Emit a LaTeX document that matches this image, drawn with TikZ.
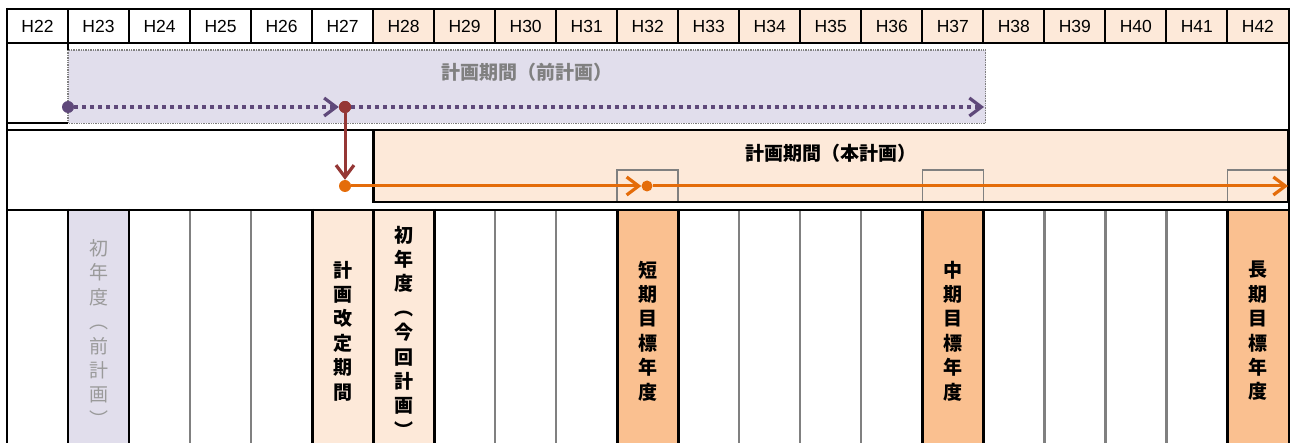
\documentclass[tikz,border=0pt]{standalone}
\usepackage{fontspec}
\setmainfont{Liberation Sans}
\newfontfamily\jp{Noto Sans CJK JP}
\usetikzlibrary{arrows.meta}
\definecolor{peach}{HTML}{FDE9D9}
\definecolor{orng}{HTML}{FAC090}
\definecolor{lav}{HTML}{E1DEEC}
\definecolor{purp}{HTML}{5F497A}
\definecolor{dred}{HTML}{953735}
\definecolor{oline}{HTML}{E46C0A}
\definecolor{gline}{HTML}{808080}
\definecolor{gtext}{HTML}{9A9A9A}
\definecolor{gtitle}{HTML}{808080}
\tikzset{
  blk/.style={line width=2pt, black},
  thk/.style={line width=2.8pt, black},
  gcol/.style={line width=2.4pt, gline},
  hdr/.style={font=\fontsize{17.5}{17.5}\selectfont, inner sep=0},
  ttl/.style={font=\jp\bfseries\fontsize{19}{19}\selectfont, inner sep=0},
  vt/.style={font=\jp\bfseries\fontsize{19}{24.4}\selectfont, align=center, inner sep=0},
  vtg/.style={font=\jp\fontsize{19}{24.4}\selectfont, align=center, inner sep=0, text=gtext},
  dot/.style={circle, inner sep=0, minimum size=12pt},
  chev/.style={-{Straight Barb[length=12pt,width=18pt,line width=3.2pt]}},
  pline/.style={line width=3.5pt, purp, dash pattern=on 4pt off 4pt},
  oln/.style={line width=3pt, oline},
  rln/.style={line width=3pt, dred},
  smallbox/.style={line width=1.6pt, gline},
}
\begin{document}
\begin{tikzpicture}[x=1pt,y=-1pt]
\useasboundingbox (0,0) rectangle (1290,443);
\def\L{7}\def\W{61.02}
% ---------- fills ----------
\fill[peach] ({\L+6*\W},9) rectangle (1288.5,43);
\fill[lav] ({\L+1*\W},210) rectangle ({\L+2*\W},443);
\fill[peach] ({\L+5*\W},210) rectangle ({\L+7*\W},443);
\fill[orng] ({\L+10*\W},210) rectangle ({\L+11*\W},443);
\fill[orng] ({\L+15*\W},210) rectangle ({\L+16*\W},443);
\fill[orng] ({\L+20*\W},210) rectangle (1288.5,443);
% ---------- row 2: previous plan box ----------
\fill[lav] ({\L+\W},50) rectangle (985.5,123.5);
\draw[gline, line width=1.4pt, densely dotted] ({\L+\W},50) rectangle (985.5,123.5);
% ---------- row 3: current plan box ----------
\draw[blk] (\L,123.5) -- ({\L+\W},123.5);
\draw[blk] (\L,130) -- (1288.5,130);
\filldraw[fill=peach, draw=black, line width=2.8pt] ({\L+6*\W},130) rectangle (1288.5,202);
\draw[smallbox] ({\L+10*\W},201) |- ({\L+11*\W},170) -- ({\L+11*\W},201);
\draw[smallbox] ({\L+15*\W},201) |- ({\L+16*\W},170) -- ({\L+16*\W},201);
\draw[smallbox] ({\L+20*\W},201) |- (1287,170);
% ---------- row 4 grid ----------
\foreach \i in {1,...,20} \draw[gcol] ({\L+\i*\W},210) -- ({\L+\i*\W},443);
\foreach \i in {1,2,5,6,7,10,11,15,16,20} \draw[thk] ({\L+\i*\W},209) -- ({\L+\i*\W},443);
\draw[blk] (\L,210) -- (1288.5,210);
% ---------- header ----------
\draw[blk] (\L,9) -- (1288.5,9);
\draw[blk] (\L,43) -- ({\L+6*\W},43);
\draw[thk] ({\L+6*\W},43) -- (1288.5,43);
\draw[blk] ({\L+\W},9) -- ({\L+\W},50);
\foreach \i in {2,...,20} \draw[blk] ({\L+\i*\W},9) -- ({\L+\i*\W},43);
\foreach \i in {0,...,20} {
  \pgfmathtruncatemacro\yr{22+\i}
  \node[hdr] (h\yr) at ({\L+(\i+0.5)*\W},26.5) {H\yr};
}
% outer borders
\draw[blk] (\L,8) -- (\L,443);
\draw[blk] (1288.5,8) -- (1288.5,443);
% ---------- titles ----------
\node[ttl, text=gtitle] (t1) at (527,72) {計画期間（前計画）};
\node[ttl] (t2) at (831,153) {計画期間（本計画）};
% ---------- arrows ----------
\node[dot, fill=purp] (p0) at ({\L+\W},107) {};
\node[dot, fill=dred] (r0) at (345,107) {};
\coordinate (pe) at (984,107);
\node[dot, fill=oline] (o0) at (345,186) {};
\node[dot, fill=oline, minimum size=11pt] (o1) at (647,186) {};
\coordinate (oe) at (1288,186);
\draw[pline, chev] (p0) -- (r0);
\draw[pline, chev] (r0) -- (pe);
\draw[oln, chev] (o0) -- (o1);
\draw[oln, chev] (o1) -- (oe);
\draw[rln, chev] (r0) -- (o0);
\node[dot, fill=dred] at (r0) {};
% ---------- vertical labels ----------
\node[vtg] (v23) at ({\L+1.5*\W},333) {初\\年\\度\\︵\\前\\計\\画\\︶};
\node[vt] (v27) at ({\L+5.5*\W},331) {計\\画\\改\\定\\期\\間};
\node[vt] (v28) at ({\L+6.5*\W},331.5) {初\\年\\度\\︵\\今\\回\\計\\画\\︶};
\node[vt] (v32) at ({\L+10.5*\W},331) {短\\期\\目\\標\\年\\度};
\node[vt] (v37) at ({\L+15.5*\W},331) {中\\期\\目\\標\\年\\度};
\node[vt] (v42) at ({\L+20.5*\W},331) {長\\期\\目\\標\\年\\度};
\end{tikzpicture}
\end{document}
